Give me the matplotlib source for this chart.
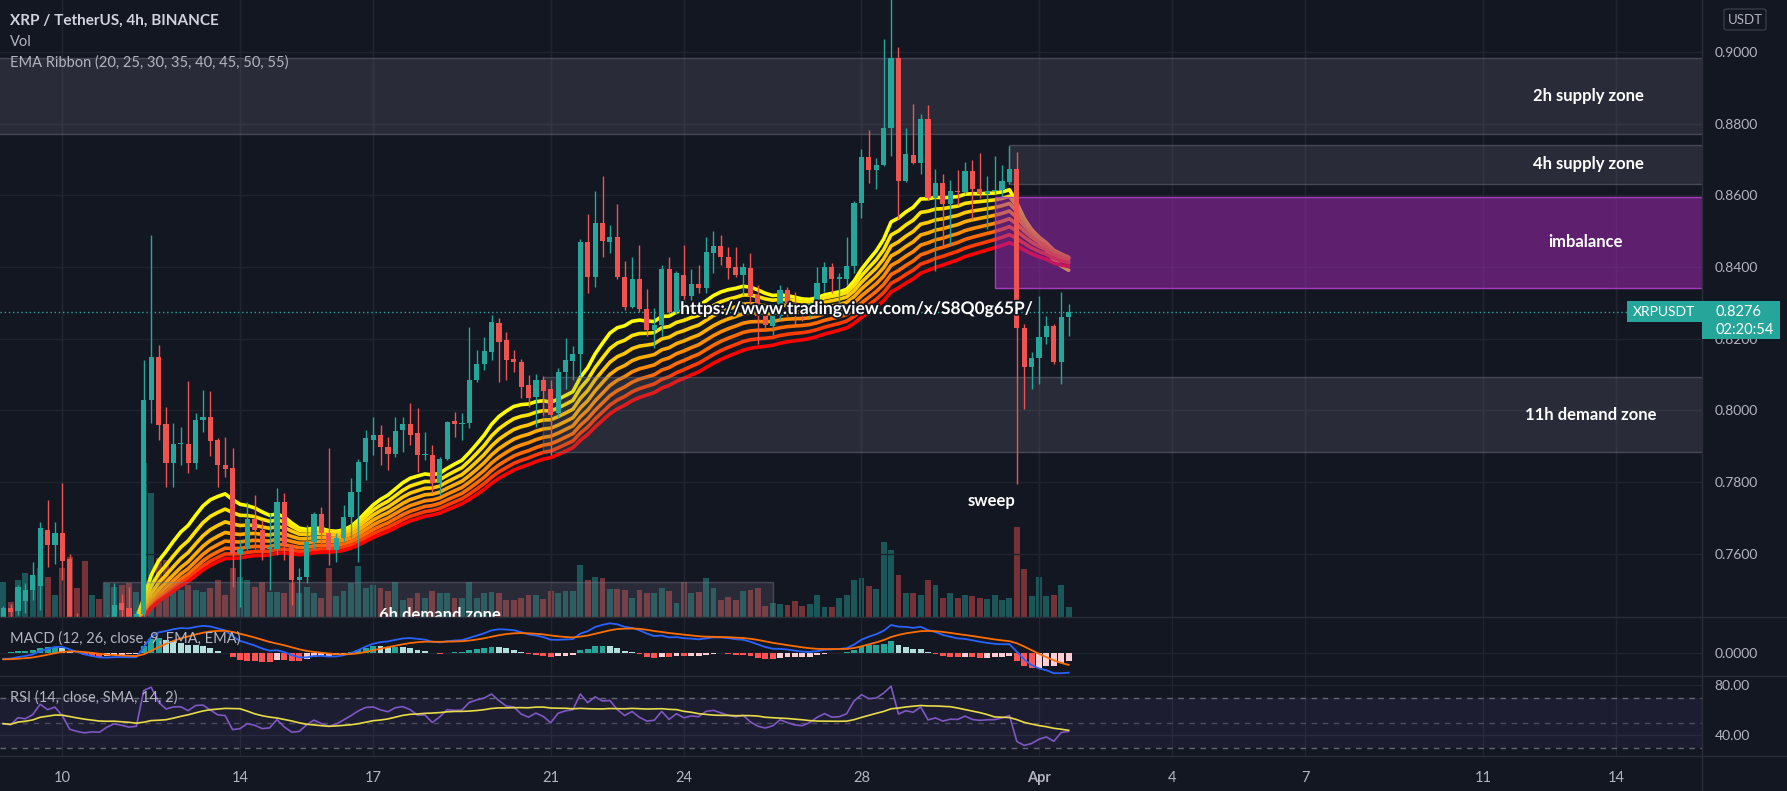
import numpy as np
import pandas as pd
import matplotlib
matplotlib.use("Agg")
import matplotlib.pyplot as plt
from matplotlib.patches import Rectangle, FancyBboxPatch
from matplotlib.lines import Line2D
import matplotlib.patheffects as pe

plt.rcParams["font.family"] = ["Lato", "DejaVu Sans"]

# 4h candles XRP/USDT, bar 0 = 10 Mar 00:00, first visible bar is -8
first_bar = -8
opens = [
    0.7410, 0.7450, 0.7440, 0.7470, 0.7499, 0.7510, 0.7668, 0.7625, 0.7659, 0.7587,
    0.7425, 0.7395, 0.7375, 0.7385, 0.7380, 0.7425, 0.7462, 0.7448, 0.7425, 0.7432,
    0.8029, 0.8150, 0.7962, 0.7853, 0.7906, 0.7906, 0.7853, 0.7974, 0.7983, 0.7919,
    0.7849, 0.7840, 0.7601, 0.7615, 0.7697, 0.7667, 0.7614, 0.7615, 0.7745, 0.7624,
    0.7527, 0.7536, 0.7634, 0.7710, 0.7657, 0.7611, 0.7643, 0.7704, 0.7773, 0.7857,
    0.7919, 0.7932, 0.7899, 0.7878, 0.7945, 0.7962, 0.7938, 0.7876, 0.7876, 0.7797,
    0.7866, 0.7971, 0.7962, 0.7964, 0.8085, 0.8131, 0.8164, 0.8245, 0.8197, 0.8143,
    0.8136, 0.8071, 0.8037, 0.8086, 0.8059, 0.7992, 0.8106, 0.8139, 0.8158, 0.8470,
    0.8371, 0.8522, 0.8470, 0.8485, 0.8373, 0.8290, 0.8367, 0.8282, 0.8224, 0.8238,
    0.8395, 0.8274, 0.8378, 0.8320, 0.8353, 0.8342, 0.8439, 0.8459, 0.8428, 0.8400,
    0.8378, 0.8397, 0.8323, 0.8263, 0.8235, 0.8263, 0.8336, 0.8301, 0.8275, 0.8266,
    0.8293, 0.8356, 0.8400, 0.8367, 0.8367, 0.8404, 0.8580, 0.8706, 0.8671, 0.8684,
    0.8787, 0.8982, 0.8640, 0.8713, 0.8691, 0.8814, 0.8594, 0.8635, 0.8577, 0.8613,
    0.8610, 0.8669, 0.8618, 0.8605, 0.8613, 0.8616, 0.8638, 0.8673, 0.8229, 0.8121,
    0.8147, 0.8205, 0.8235, 0.8136, 0.8260,
]
highs = [
    0.7455, 0.7460, 0.7513, 0.7520, 0.7578, 0.7690, 0.7750, 0.7690, 0.7799, 0.7601,
    0.7435, 0.7410, 0.7400, 0.7395, 0.7430, 0.7518, 0.7489, 0.7508, 0.7440, 0.8140,
    0.8490, 0.8183, 0.8011, 0.7964, 0.7955, 0.8081, 0.7992, 0.8057, 0.8053, 0.7922,
    0.7927, 0.7894, 0.7639, 0.7746, 0.7764, 0.7694, 0.7713, 0.7783, 0.7769, 0.7629,
    0.7560, 0.7680, 0.7718, 0.7732, 0.7894, 0.7657, 0.7736, 0.7811, 0.7865, 0.7945,
    0.7983, 0.7960, 0.7927, 0.7983, 0.7983, 0.8020, 0.8006, 0.7941, 0.7904, 0.7871,
    0.7971, 0.7997, 0.7992, 0.8234, 0.8169, 0.8206, 0.8266, 0.8257, 0.8220, 0.8169,
    0.8145, 0.8099, 0.8103, 0.8097, 0.8086, 0.8119, 0.8202, 0.8180, 0.8478, 0.8549,
    0.8613, 0.8654, 0.8518, 0.8577, 0.8417, 0.8428, 0.8461, 0.8338, 0.8285, 0.8406,
    0.8428, 0.8389, 0.8461, 0.8395, 0.8406, 0.8483, 0.8500, 0.8489, 0.8456, 0.8456,
    0.8411, 0.8439, 0.8351, 0.8290, 0.8279, 0.8351, 0.8345, 0.8330, 0.8290, 0.8304,
    0.8400, 0.8415, 0.8411, 0.8384, 0.8483, 0.8583, 0.8728, 0.8781, 0.8704, 0.9037,
    0.9160, 0.9015, 0.8787, 0.8856, 0.8827, 0.8853, 0.8673, 0.8660, 0.8642, 0.8671,
    0.8693, 0.8698, 0.8717, 0.8654, 0.8709, 0.8684, 0.8737, 0.8720, 0.8240, 0.8163,
    0.8318, 0.8263, 0.8240, 0.8331, 0.8296,
]
lows = [
    0.7400, 0.7425, 0.7430, 0.7435, 0.7471, 0.7443, 0.7564, 0.7573, 0.7527, 0.7410,
    0.7380, 0.7360, 0.7365, 0.7370, 0.7375, 0.7415, 0.7425, 0.7410, 0.7405, 0.7420,
    0.7964, 0.7918, 0.7786, 0.7786, 0.7848, 0.7827, 0.7836, 0.7941, 0.7873, 0.7787,
    0.7815, 0.7508, 0.7452, 0.7611, 0.7615, 0.7583, 0.7499, 0.7597, 0.7583, 0.7457,
    0.7425, 0.7518, 0.7615, 0.7620, 0.7569, 0.7578, 0.7634, 0.7643, 0.7578, 0.7806,
    0.7876, 0.7848, 0.7834, 0.7871, 0.7885, 0.7903, 0.7829, 0.7862, 0.7769, 0.7764,
    0.7862, 0.7925, 0.7918, 0.7950, 0.8080, 0.8113, 0.8141, 0.8080, 0.8085, 0.8108,
    0.8034, 0.8011, 0.7954, 0.7987, 0.7877, 0.7981, 0.8059, 0.8086, 0.8097, 0.8329,
    0.8345, 0.8428, 0.8439, 0.8367, 0.8279, 0.8285, 0.8274, 0.8207, 0.8174, 0.8207,
    0.8268, 0.8268, 0.8301, 0.8307, 0.8329, 0.8329, 0.8384, 0.8406, 0.8367, 0.8373,
    0.8323, 0.8296, 0.8185, 0.8230, 0.8210, 0.8252, 0.8263, 0.8240, 0.8250, 0.8260,
    0.8288, 0.8330, 0.8329, 0.8285, 0.8351, 0.8384, 0.8538, 0.8635, 0.8618, 0.8682,
    0.8709, 0.8533, 0.8638, 0.8687, 0.8660, 0.8588, 0.8389, 0.8456, 0.8461, 0.8572,
    0.8605, 0.8533, 0.8594, 0.8505, 0.8605, 0.8599, 0.8632, 0.7794, 0.8003, 0.8059,
    0.8075, 0.8185, 0.8130, 0.8073, 0.8208,
]
closes = [
    0.7450, 0.7438, 0.7508, 0.7499, 0.7541, 0.7671, 0.7625, 0.7659, 0.7580, 0.7425,
    0.7395, 0.7375, 0.7385, 0.7380, 0.7425, 0.7458, 0.7443, 0.7425, 0.7432, 0.8029,
    0.8150, 0.7960, 0.7853, 0.7906, 0.7910, 0.7853, 0.7973, 0.7983, 0.7916, 0.7848,
    0.7836, 0.7601, 0.7615, 0.7697, 0.7667, 0.7611, 0.7620, 0.7745, 0.7624, 0.7527,
    0.7536, 0.7634, 0.7710, 0.7657, 0.7611, 0.7643, 0.7704, 0.7773, 0.7857, 0.7922,
    0.7932, 0.7899, 0.7878, 0.7943, 0.7962, 0.7932, 0.7876, 0.7878, 0.7797, 0.7866,
    0.7969, 0.7962, 0.7966, 0.8085, 0.8131, 0.8166, 0.8248, 0.8192, 0.8141, 0.8134,
    0.8066, 0.8034, 0.8086, 0.8053, 0.7987, 0.8106, 0.8141, 0.8158, 0.8470, 0.8373,
    0.8522, 0.8472, 0.8485, 0.8373, 0.8290, 0.8367, 0.8282, 0.8224, 0.8238, 0.8395,
    0.8274, 0.8384, 0.8320, 0.8353, 0.8342, 0.8442, 0.8459, 0.8428, 0.8397, 0.8378,
    0.8400, 0.8320, 0.8263, 0.8238, 0.8263, 0.8336, 0.8301, 0.8275, 0.8266, 0.8298,
    0.8356, 0.8400, 0.8367, 0.8372, 0.8404, 0.8580, 0.8706, 0.8671, 0.8684, 0.8787,
    0.8982, 0.8640, 0.8715, 0.8691, 0.8812, 0.8594, 0.8635, 0.8577, 0.8613, 0.8610,
    0.8669, 0.8618, 0.8605, 0.8613, 0.8616, 0.8640, 0.8673, 0.8229, 0.8121, 0.8147,
    0.8205, 0.8235, 0.8136, 0.8260, 0.8276,
]
# volume, millions XRP
volumes = [
    35, 15, 37, 44, 41, 49, 40, 22, 49, 60,
    29, 56, 22, 18, 34, 30, 32, 34, 25, 154,
    124, 59, 57, 25, 27, 32, 27, 25, 29, 37,
    22, 49, 40, 37, 30, 35, 25, 25, 24, 34,
    24, 30, 24, 19, 49, 21, 26, 34, 51, 29,
    32, 29, 26, 35, 17, 19, 24, 19, 26, 24,
    24, 19, 19, 35, 19, 24, 25, 24, 17, 17,
    19, 22, 22, 18, 26, 24, 26, 26, 52, 37,
    40, 39, 28, 28, 27, 19, 27, 24, 24, 29,
    26, 14, 35, 24, 25, 39, 29, 17, 20, 17,
    26, 27, 29, 11, 14, 13, 12, 16, 11, 13,
    22, 10, 10, 19, 22, 37, 39, 31, 28, 75,
    67, 42, 24, 24, 22, 37, 32, 19, 24, 19,
    22, 21, 19, 18, 22, 17, 19, 90, 48, 21,
    40, 21, 22, 32, 10,
]

# indicator state carried in from bars before the visible window
ribbon_lengths = [20, 25, 30, 35, 40, 45, 50, 55]
ribbon_seed = [0.7195, 0.7220, 0.7245, 0.7265, 0.7285, 0.7300, 0.7315, 0.7330]
macd_seed = [0.7445, 0.7475, -0.0030]   # ema12, ema26, signal
rsi_seed = [0.0021, 0.0025]             # avg gain, avg loss

date_days = [0, 4, 7, 11, 14, 18, 22, 25, 28, 32, 35]   # days after 10 Mar
date_labels = ["10", "14", "17", "21", "24", "28", "Apr", "4", "7", "11", "14"]

zone_names = ["2h supply zone", "4h supply zone", "imbalance", "11h demand zone", "6h demand zone"]
zone_start = [-9, 128, 126, 65, 5.5]
zone_end = [240, 240, 240, 240, 96]
zone_low = [0.8771, 0.8632, 0.8342, 0.7884, 0.7380]
zone_high = [0.8983, 0.8741, 0.8596, 0.8093, 0.7522]

BG = "#131722"
GRID = "#20242f"
SEP = "#2a2e39"
TXT = "#b2b5be"
UP = "#26a69a"
DOWN = "#ef5350"
W, H = 1787, 791

o = np.array(opens); h = np.array(highs); l = np.array(lows); c = np.array(closes)
v = np.array(volumes, dtype=float)
x = np.arange(first_bar, first_bar + len(c))
up = c >= o


def ema(values, length, seed):
    a = 2.0 / (length + 1)
    out = []
    e = seed
    for val in values:
        e = e + a * (val - e)
        out.append(e)
    return np.array(out)


ribbon = [ema(c, n, s) for n, s in zip(ribbon_lengths, ribbon_seed)]
fast = ema(c, 12, macd_seed[0])
slow = ema(c, 26, macd_seed[1])
macd = fast - slow
signal = ema(macd, 9, macd_seed[2])
hist = macd - signal

ag, al = rsi_seed
rsi = []
prev = o[0]
for val in c:
    ch = val - prev
    ag = (ag * 13 + max(ch, 0)) / 14
    al = (al * 13 + max(-ch, 0)) / 14
    rsi.append(100 - 100 / (1 + ag / al))
    prev = val
rsi = np.array(rsi)
rsi_ma = pd.Series(rsi).rolling(14, min_periods=1).mean().values

fig = plt.figure(figsize=(W / 100, H / 100), dpi=100, facecolor=BG)


def frac(px_x, px_y):
    return px_x / W, 1 - px_y / H


price_rect = [0, 1 - 617 / H, 1702 / W, 617 / H]
ax_vol = fig.add_axes(price_rect, zorder=0)
ax = fig.add_axes(price_rect, zorder=1, sharex=ax_vol)
ax.patch.set_alpha(0)
ax_macd = fig.add_axes([0, 1 - 676 / H, 1702 / W, 59 / H], sharex=ax_vol)
ax_rsi = fig.add_axes([0, 1 - 756 / H, 1702 / W, 80 / H], sharex=ax_vol)

for a in (ax_vol, ax, ax_macd, ax_rsi):
    a.set_facecolor(BG)
    for s in a.spines.values():
        s.set_visible(False)
    a.tick_params(length=0, labelsize=10, labelcolor=TXT)
ax_vol.patch.set_facecolor(BG)

xticks = [6 * d for d in date_days]
ax_vol.set_xlim(-8.43, 221.6)

# volume
vcol = [UP if u else DOWN for u in up]
ax_vol.bar(x, v, width=0.8, color=vcol, alpha=0.45, linewidth=0)
ax_vol.set_ylim(0, 617)
ax_vol.set_yticks([])
ax_vol.tick_params(labelbottom=False)
for xt in xticks:
    ax_vol.axvline(xt, color=GRID, lw=1, zorder=0)

# price panel
ax.set_ylim(0.7424, 0.9145)
ax.yaxis.tick_right()
ax.set_yticks(np.arange(0.76, 0.9001, 0.02))
ax.set_yticklabels([f"{t:.4f}" for t in np.arange(0.76, 0.9001, 0.02)])
ax.tick_params(axis="y", pad=9)
ax.tick_params(labelbottom=False)
ax.set_xticks(xticks)
ax.grid(True, color=GRID, lw=1)
ax.set_axisbelow(True)

ribbon_colors = ["#ffff00", "#ffe400", "#ffc800", "#ffac00", "#ff8c00", "#ff6a00", "#ff3c00", "#ff0000"]
for line, col in zip(ribbon, ribbon_colors):
    ax.plot(x, line, color=col, lw=2.6, zorder=2, solid_capstyle="round")

for i, name in enumerate(zone_names):
    if name == "imbalance":
        fc, ec = (0.612, 0.153, 0.690, 0.55), (0.70, 0.25, 0.78, 0.9)
    else:
        fc, ec = (0.47, 0.48, 0.53, 0.22), (0.47, 0.48, 0.53, 0.45)
    ax.add_patch(Rectangle((zone_start[i], zone_low[i]), zone_end[i] - zone_start[i],
                           zone_high[i] - zone_low[i], facecolor=fc, edgecolor=ec,
                           lw=1, zorder=3))

# candles
ccol = np.where(up, UP, DOWN)
ax.vlines(x, l, h, colors=ccol, lw=1, zorder=4)
body = np.maximum(np.abs(c - o), 0.00025)
ax.bar(x, body, bottom=np.minimum(o, c), width=0.7, color=ccol, linewidth=0, zorder=5)

last = c[-1]
ax.axhline(last, color=UP, lw=1, ls=(0, (1, 2)), zorder=3)

label_kw = dict(color="white", fontsize=12, fontweight="bold", ha="center", va="center", zorder=7)
ax.text(206.2, (zone_low[0] + zone_high[0]) / 2, zone_names[0], **label_kw)
ax.text(206.2, (zone_low[1] + zone_high[1]) / 2, zone_names[1], **label_kw)
ax.text(205.8, (zone_low[2] + zone_high[2]) / 2, zone_names[2], **label_kw)
ax.text(206.6, (zone_low[3] + zone_high[3]) / 2, zone_names[3], **label_kw)
ax.text(51.0, 0.7430, zone_names[4], clip_on=True, **label_kw)
ax.text(125.6, 0.7748, "sweep", **label_kw)
ax.text(83.5, 0.8283, "https://www.tradingview.com/x/S8Q0g65P/", color="white", fontsize=12.5,
        fontweight="bold", ha="left", va="center", zorder=7,
        path_effects=[pe.withStroke(linewidth=2.5, foreground=BG)])

# MACD panel
hcol = []
for i, hv in enumerate(hist):
    pv = hist[i - 1] if i > 0 else hv
    if hv >= 0:
        hcol.append("#26a69a" if hv > pv else "#b2dfdb")
    else:
        hcol.append("#ff5252" if hv < pv else "#ffcdd2")
ax_macd.bar(x, hist, width=0.8, color=hcol, linewidth=0, zorder=2)
ax_macd.plot(x, macd, color="#2962ff", lw=1.3, zorder=3)
ax_macd.plot(x, signal, color="#ff6d00", lw=1.3, zorder=3)
scale = 29.7 / macd.max()
ax_macd.set_ylim(-23 / scale, 36 / scale)
ax_macd.yaxis.tick_right()
ax_macd.set_yticks([0])
ax_macd.set_yticklabels(["0.0000"])
ax_macd.tick_params(axis="y", pad=9, labelbottom=False)
ax_macd.tick_params(labelbottom=False)
ax_macd.set_xticks(xticks)
ax_macd.grid(True, color=GRID, lw=1)
ax_macd.set_axisbelow(True)

# RSI panel
ax_rsi.axhspan(30, 70, color="#7e57c2", alpha=0.1, lw=0)
for lv, al_ in ((70, 0.8), (50, 0.5), (30, 0.8)):
    ax_rsi.axhline(lv, color="#787b86", lw=1, ls=(0, (4, 4)), alpha=al_)
ax_rsi.plot(x, rsi, color="#7e57c2", lw=1.2, zorder=3)
ax_rsi.plot(x, rsi_ma, color="#e8dc48", lw=1.2, zorder=3)
ax_rsi.set_ylim(23.2, 87.2)
ax_rsi.yaxis.tick_right()
ax_rsi.set_yticks([40, 80])
ax_rsi.set_yticklabels(["40.00", "80.00"])
ax_rsi.tick_params(axis="y", pad=9)
ax_rsi.set_xticks(xticks)
ax_rsi.set_xticklabels(date_labels)
ax_rsi.tick_params(axis="x", pad=11, labelsize=10.5)
for lab in ax_rsi.get_xticklabels():
    if lab.get_text() == "Apr":
        lab.set_fontweight("bold")
ax_rsi.grid(True, color=GRID, lw=1)
ax_rsi.set_axisbelow(True)

# separators
for yy in (617, 676, 756):
    fig.add_artist(Line2D([0, 1], [1 - yy / H] * 2, color=SEP, lw=1, transform=fig.transFigure))
fig.add_artist(Line2D([1702 / W] * 2, [0, 1], color=SEP, lw=1, transform=fig.transFigure))

# legend texts
fig.text(*frac(10, 21), "XRP / TetherUS, 4h, BINANCE", color="#d1d4dc", fontsize=11,
         fontweight="bold", va="center")
fig.text(*frac(10, 42), "Vol", color=TXT, fontsize=10.5, va="center")
fig.text(*frac(10, 63), "EMA Ribbon (20, 25, 30, 35, 40, 45, 50, 55)", color=TXT, fontsize=10.5, va="center")
fig.text(*frac(10, 639), "MACD (12, 26, close, 9, EMA, EMA)", color=TXT, fontsize=10.5, va="center", zorder=10)
fig.text(*frac(10, 698), "RSI (14, close, SMA, 14, 2)", color=TXT, fontsize=10.5, va="center", zorder=10)

# USDT unit box
ux, uy = frac(1724, 30)
fig.add_artist(FancyBboxPatch((ux, uy), 42 / W, 21 / H, boxstyle="round,pad=0,rounding_size=0.002",
                              transform=fig.transFigure, facecolor="none", edgecolor="#363a45", lw=1))
fig.text(*frac(1745, 20), "USDT", color=TXT, fontsize=9.5, ha="center", va="center")

# last price label
ypix = H - ax.transData.transform((0, last))[1]
fig.add_artist(Rectangle(frac(1627, ypix + 10.5), 75 / W, 21 / H, transform=fig.transFigure,
                         facecolor=UP, edgecolor="none", zorder=20))
fig.add_artist(Rectangle(frac(1702, ypix + 27.5), 78 / W, 38 / H, transform=fig.transFigure,
                         facecolor=UP, edgecolor="none", zorder=20))
fig.text(*frac(1664, ypix), "XRPUSDT", color="white", fontsize=10, ha="center", va="center", zorder=21)
fig.text(*frac(1715, ypix), f"{last:.4f}", color="white", fontsize=10.5, ha="left", va="center", zorder=21)
fig.text(*frac(1715, ypix + 18), "02:20:54", color="white", fontsize=10.5, ha="left", va="center", zorder=21)

fig.savefig("out.png", dpi=100, facecolor=BG)
